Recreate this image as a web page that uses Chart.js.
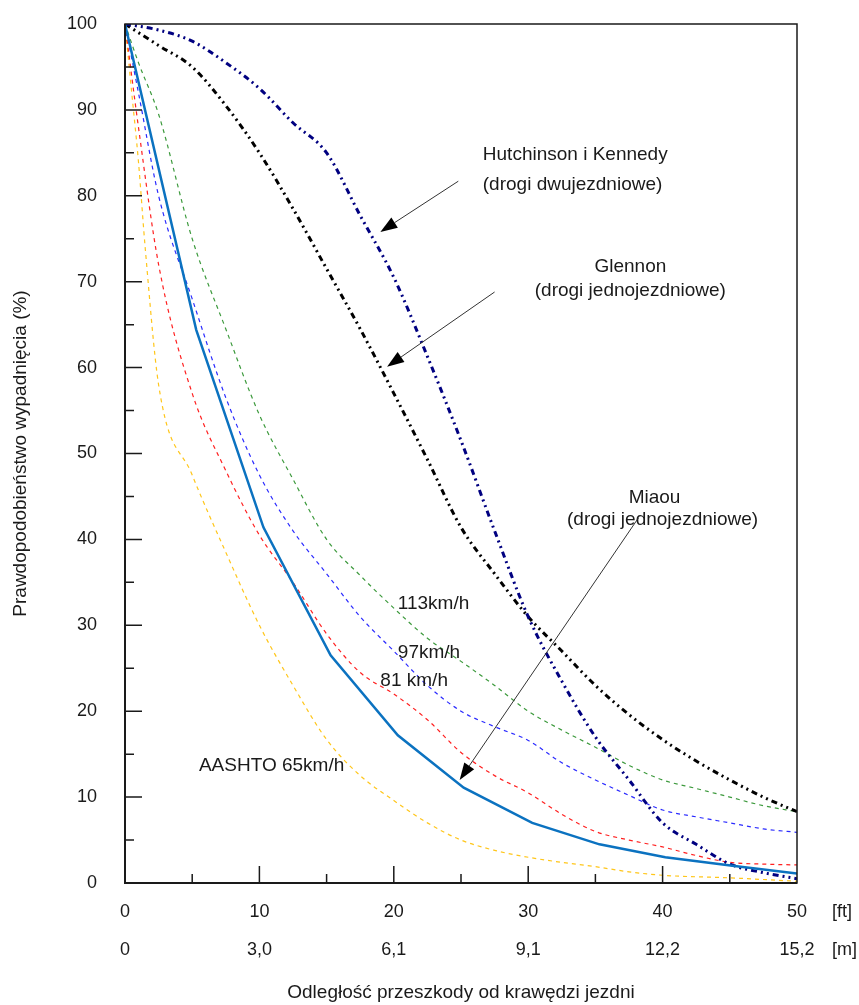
<!DOCTYPE html>
<html>
<head>
<meta charset="utf-8">
<script src="https://cdn.jsdelivr.net/npm/chart.js@4.4.0/dist/chart.umd.min.js"></script>
<style>
body { margin: 0; background: #fff; }
#wrap { width: 859px; height: 1005px; }
</style>
</head>
<body>
<div id="wrap"><canvas id="myChart" width="859" height="1005"></canvas></div>
<script>
// odleglosc w stopach
var feet = [0, 2.5, 5, 7.5, 10, 12.5, 15, 17.5, 20, 22.5, 25, 27.5, 30, 32.5, 35, 37.5, 40, 42.5, 45, 47.5, 50];
var hutchinson = [100, 99.3, 98, 95.5, 92.5, 88.5, 85, 77.7, 70.5, 61.3, 51.5, 41, 31, 23.5, 17, 12, 7, 4.5, 2.2, 1.2, 0.5];
var glennon = [100, 97.5, 95, 90.5, 85, 78.5, 71.5, 64.5, 57, 49.3, 41.4, 36, 31, 27, 23, 19.6, 16.7, 14.2, 12, 10, 8.3];

var speedFeet = [0, 1, 2.5, 5, 7.5, 10, 12.5, 15, 17.5, 20, 22.5, 25, 27.5, 30, 32.5, 35, 37.5, 40, 42.5, 45, 47.5, 50];
var kmh113 = [100, 95.5, 89.5, 75, 64.5, 54.5, 47, 40, 35.8, 32, 28.5, 25.8, 23, 20, 17.8, 15.8, 13.7, 12, 11, 10, 9, 8.3];
var kmh97 = [100, 92, 80, 68, 56.5, 47.5, 41, 36, 31, 27, 23, 20, 18.2, 16.6, 14, 12, 10.2, 8.5, 7.7, 7, 6.3, 5.9];
var kmh81 = [100, 88, 72, 57, 48, 40.5, 35, 29, 24.5, 22, 19, 15.2, 12.5, 10.5, 8, 6, 5, 4.2, 3.2, 2.4, 2.2, 2.1];

var aashtoFeet = [0, 0.5, 1, 1.5, 2.5, 5, 7.5, 10, 12.5, 15, 17.5, 20, 22.5, 25, 27.5, 30, 32.5, 35, 37.5, 40, 45, 50];
var aashto = [100, 92, 84, 74, 58, 47.5, 38.5, 30, 23, 16.7, 12.5, 9.6, 7, 5, 3.8, 3, 2.4, 1.9, 1.3, 0.9, 0.6, 0.2];

var miaouFeet = [0, 5.3, 10.3, 15.3, 20.3, 25.2, 30.3, 35.3, 40.2, 45.2, 50];
var miaou = [100, 64.4, 41.4, 26.5, 17.2, 11.1, 7, 4.5, 3, 2, 1.1];

var ftTicks = [0, 10, 20, 30, 40, 50];
var mTicks = ['0', '3,0', '6,1', '9,1', '12,2', '15,2'];

// podpisy na wykresie (w jednostkach danych)
var labels = [
    {text: 'Hutchinson i Kennedy', x: 33.5, y: 84.8, align: 'center'},
    {text: '(drogi dwujezdniowe)', x: 33.3, y: 81.3, align: 'center'},
    {text: 'Glennon', x: 37.6, y: 71.7, align: 'center'},
    {text: '(drogi jednojezdniowe)', x: 37.6, y: 69.0, align: 'center'},
    {text: 'Miaou', x: 39.4, y: 44.9, align: 'center'},
    {text: '(drogi jednojezdniowe)', x: 40.0, y: 42.3, align: 'center'},
    {text: '113km/h', x: 20.3, y: 32.5, align: 'left'},
    {text: '97km/h', x: 20.3, y: 26.8, align: 'left'},
    {text: '81 km/h', x: 19.0, y: 23.5, align: 'left'},
    {text: 'AASHTO 65km/h', x: 5.5, y: 13.6, align: 'left'}
];
var arrows = [
    {x1: 24.8, y1: 81.7, x2: 19.0, y2: 75.8},
    {x1: 27.5, y1: 68.8, x2: 19.5, y2: 60.1},
    {x1: 38.2, y1: 42.5, x2: 24.9, y2: 12.0}
];

function pts(xs, ys) {
    var out = [];
    for (i = 0; i < xs.length; i++) {
        out.push({x: xs[i], y: ys[i]});
    }
    return out;
}

var FONT = '"Liberation Sans", Arial, sans-serif';

const frame_plugin = {
    id: 'frame_and_notes',
    afterDatasetsDraw: (chart) => {
        const ctx = chart.ctx;
        const a = chart.chartArea;
        const xs = chart.scales.x;
        const ys = chart.scales.y;
        ctx.save();
        // ramka
        ctx.strokeStyle = '#1a1a1a';
        ctx.lineWidth = 1.5;
        ctx.strokeRect(a.left, a.top, a.right - a.left, a.bottom - a.top);
        ctx.lineWidth = 2;
        ctx.beginPath();
        ctx.moveTo(a.left, a.top);
        ctx.lineTo(a.left, a.bottom);
        ctx.lineTo(a.right, a.bottom);
        ctx.stroke();
        // znaczniki do wewnatrz
        ctx.lineWidth = 1.5;
        ctx.beginPath();
        for (v = 5; v < 100; v += 5) {
            var py = ys.getPixelForValue(v);
            var len = (v % 10 == 0) ? 17 : 9;
            ctx.moveTo(a.left, py);
            ctx.lineTo(a.left + len, py);
        }
        for (v = 5; v < 50; v += 5) {
            var px = xs.getPixelForValue(v);
            var len = (v % 10 == 0) ? 17 : 9;
            ctx.moveTo(px, a.bottom);
            ctx.lineTo(px, a.bottom - len);
        }
        ctx.stroke();

        // jednostki osi x
        ctx.fillStyle = '#1a1a1a';
        ctx.font = '18px ' + FONT;
        ctx.textAlign = 'left';
        ctx.textBaseline = 'middle';
        ctx.fillText('[ft]', a.right + 35, a.bottom + 29);
        ctx.fillText('[m]', a.right + 35, a.bottom + 67);

        // opisy krzywych
        ctx.font = '19px ' + FONT;
        for (i = 0; i < labels.length; i++) {
            var l = labels[i];
            ctx.textAlign = l.align;
            ctx.fillText(l.text, xs.getPixelForValue(l.x), ys.getPixelForValue(l.y));
        }

        // strzalki
        ctx.strokeStyle = '#333';
        ctx.fillStyle = '#000';
        ctx.lineWidth = 1;
        for (i = 0; i < arrows.length; i++) {
            var ar = arrows[i];
            var x1 = xs.getPixelForValue(ar.x1), y1 = ys.getPixelForValue(ar.y1);
            var x2 = xs.getPixelForValue(ar.x2), y2 = ys.getPixelForValue(ar.y2);
            var ang = Math.atan2(y2 - y1, x2 - x1);
            var hl = 17, hw = 6;
            var bx = x2 - hl * Math.cos(ang), by = y2 - hl * Math.sin(ang);
            ctx.beginPath();
            ctx.moveTo(x1, y1);
            ctx.lineTo(bx, by);
            ctx.stroke();
            ctx.beginPath();
            ctx.moveTo(x2, y2);
            ctx.lineTo(bx + hw * Math.sin(ang), by - hw * Math.cos(ang));
            ctx.lineTo(bx - hw * Math.sin(ang), by + hw * Math.cos(ang));
            ctx.closePath();
            ctx.fill();
        }
        ctx.restore();
    }
};

function dashed(label, xs, ys, color) {
    return {
        label: label,
        data: pts(xs, ys),
        borderColor: color,
        backgroundColor: color,
        borderWidth: 1.2,
        borderDash: [4, 4],
        pointRadius: 0,
        cubicInterpolationMode: 'monotone',
        fill: false
    };
}

var data_set = [
    {
        label: 'Miaou',
        data: pts(miaouFeet, miaou),
        borderColor: '#0b72c0',
        borderWidth: 2.5,
        pointRadius: 0,
        tension: 0,
        fill: false
    },
    {
        label: 'Hutchinson i Kennedy',
        data: pts(feet, hutchinson),
        borderColor: '#000080',
        borderWidth: 3,
        borderDash: [6, 4, 2, 4, 2, 4],
        pointRadius: 0,
        cubicInterpolationMode: 'monotone',
        fill: false
    },
    {
        label: 'Glennon',
        data: pts(feet, glennon),
        borderColor: '#000000',
        borderWidth: 3,
        borderDash: [6, 4, 2, 4, 2, 4],
        pointRadius: 0,
        cubicInterpolationMode: 'monotone',
        fill: false
    },
    dashed('113km/h', speedFeet, kmh113, '#3d9a3d'),
    dashed('97km/h', speedFeet, kmh97, '#2b2bff'),
    dashed('81 km/h', speedFeet, kmh81, '#ff2020'),
    dashed('AASHTO 65km/h', aashtoFeet, aashto, '#ffc61a')
];

var the_chart_canvas = document.getElementById('myChart').getContext('2d');
var myChart = new Chart(the_chart_canvas, {
    type: 'line',
    data: { datasets: data_set },
    options: {
        responsive: false,
        animation: false,
        layout: { padding: { top: 24, right: 62, left: 0, bottom: 0 } },
        plugins: { legend: { display: false }, tooltip: { enabled: false } },
        scales: {
            x: {
                type: 'linear',
                min: 0,
                max: 50,
                grid: { display: false, drawTicks: false },
                border: { display: false },
                afterFit: (scale) => {
                    scale.height = 122;
                    scale.paddingLeft = 0;
                    scale.paddingRight = 0;
                },
                afterBuildTicks: (scale) => {
                    scale.ticks = ftTicks.map(function (v) { return {value: v}; });
                },
                ticks: {
                    padding: 10,
                    maxRotation: 0,
                    color: '#1a1a1a',
                    font: { family: FONT, size: 18, lineHeight: 2.11 },
                    callback: function (v) {
                        var k = ftTicks.indexOf(v);
                        return [String(v), mTicks[k]];
                    }
                },
                title: {
                    display: true,
                    text: 'Odległość przeszkody od krawędzi jezdni',
                    color: '#1a1a1a',
                    font: { family: FONT, size: 19 },
                    padding: { top: 0, bottom: 1 }
                }
            },
            y: {
                min: 0,
                max: 100,
                grid: { display: false, drawTicks: false },
                border: { display: false },
                afterFit: (scale) => {
                    scale.width = 125;
                    scale.paddingTop = 0;
                    scale.paddingBottom = 0;
                },
                ticks: {
                    stepSize: 10,
                    padding: 28,
                    color: '#1a1a1a',
                    font: { family: FONT, size: 18 }
                },
                title: {
                    display: true,
                    text: 'Prawdopodobieństwo wypadnięcia (%)',
                    color: '#1a1a1a',
                    font: { family: FONT, size: 19 },
                    padding: { top: 9, bottom: 0 }
                }
            }
        }
    },
    plugins: [frame_plugin]
});
</script>
</body>
</html>
